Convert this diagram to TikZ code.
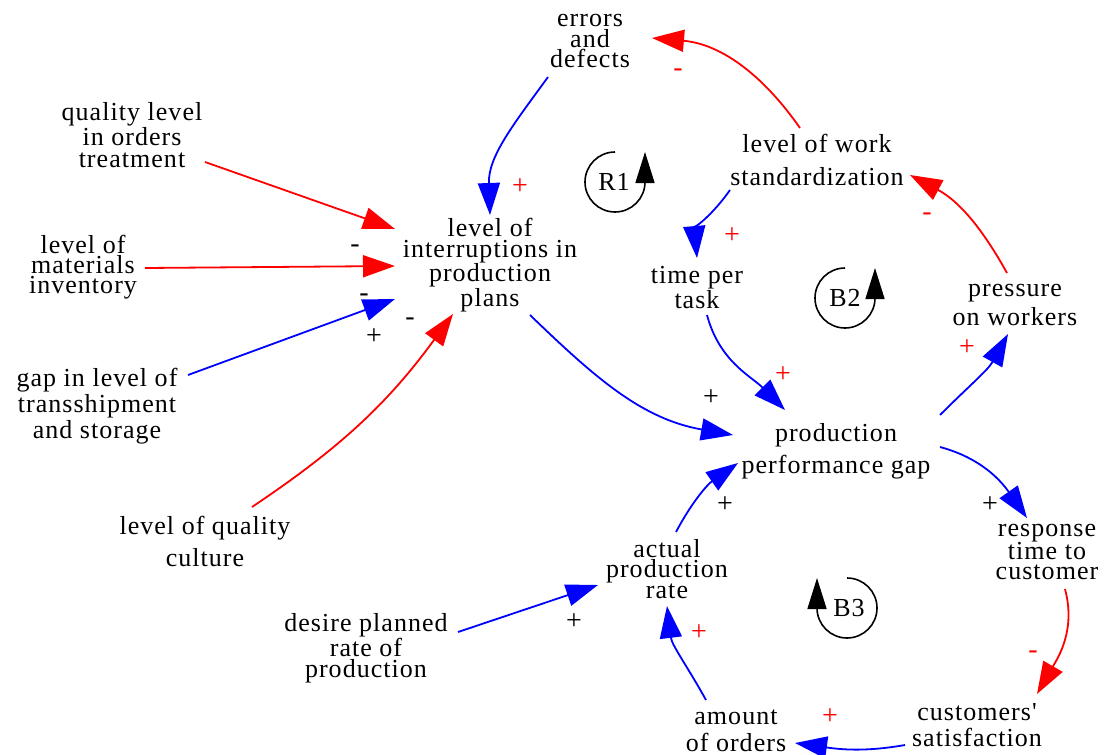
\documentclass[tikz,border=0pt]{standalone}
\usepackage{fontspec}
\setmainfont{Liberation Serif}
\newfontfamily\varfont[LetterSpace=4]{Liberation Serif}
\usetikzlibrary{arrows.meta}

\definecolor{posblue}{RGB}{0,0,255}
\definecolor{negred}{RGB}{255,0,0}

\tikzset{
  var/.style={align=center, inner sep=2pt, font=\varfont\fontsize{26}{#1}\selectfont},
  link/.style={line width=1.8pt, -{Triangle[length=32pt,width=22pt]}},
  poslink/.style={link, draw=posblue},
  neglink/.style={link, draw=negred},
  sign/.style={inner sep=0pt, font=\fontsize{28}{28}\selectfont},
  redsign/.style={sign, text=negred},
  loopsym/.style={line width=1.6pt, -{Triangle[length=31pt,width=19pt]}},
  looplabel/.style={inner sep=0pt, font=\varfont\fontsize{26}{26}\selectfont},
}

\begin{document}
\begin{tikzpicture}[x=1pt, y=1pt]
\useasboundingbox (0,0) rectangle (1104,-755);
\fill[white] (0,0) rectangle (1104,-755);

% variables
\node[var=20]   (eD) at (590,-41)  {errors\\and\\defects};
\node[var=22]   (qL) at (132,-135) {quality level\\in orders\\treatment};
\node[var=20]   (mI) at (83,-267)  {level of\\materials\\inventory};
\node[var=20.5] (iP) at (490,-265) {level of\\interruptions in\\production\\plans};
\node[var=26]   (gT) at (97,-406)  {gap in level of\\transshipment\\and storage};
\node[var=32]   (qC) at (205,-541) {level of quality\\culture};
\node[var=33]   (wS) at (817,-160) {level of work\\standardization};
\node[var=25]   (tT) at (697,-288) {time per\\task};
\node[var=29]   (pW) at (1015,-305) {pressure\\on workers};
\node[var=32]   (pG) at (836,-451) {production\\performance gap};
\node[var=20]   (rT) at (1047,-552) {response\\time to\\customer};
\node[var=20.5] (aP) at (667,-569) {actual\\production\\rate};
\node[var=21]   (dP) at (366,-648) {desire planned\\rate of\\production};
\node[var=26]   (cS) at (977,-725) {customers'\\satisfaction};
\node[var=27]   (aO) at (736,-731) {amount\\of orders};

% causal links
\draw[neglink] ([shift={(-17,32)}]wS.center) to[out=125,in=-5] ([shift={(62,3)}]eD.center);
\draw[poslink] ([shift={(-42,-36)}]eD.center) to[out=234,in=92] ([shift={(0,50)}]iP.center);
\draw[poslink] ([shift={(-87,-30)}]wS.center) to[out=235,in=95] ([shift={(0,30)}]tT.center);
\draw[neglink] ([shift={(-8,32)}]pW.center) to[out=119,in=-28] ([shift={(93,-15)}]wS.center);
\draw[poslink] ([shift={(10,-27)}]tT.center) to[out=-75,in=135] ([shift={(-51,41)}]pG.center);
\draw[poslink] ([shift={(104,36)}]pG.center) to[out=45,in=241] ([shift={(-7,-29)}]pW.center);
\draw[poslink] ([shift={(40,-50)}]iP.center) to[out=-44,in=170] ([shift={(-103,16)}]pG.center);
\draw[poslink] ([shift={(104,4)}]pG.center) to[out=-15,in=125] ([shift={(-20,34)}]rT.center);
\draw[neglink] ([shift={(18,-37)}]rT.center) to[out=-75,in=60] ([shift={(60,31)}]cS.center);
\draw[poslink] ([shift={(-72,-20)}]cS.center) to[out=190,in=-8] ([shift={(59,-12)}]aO.center);
\draw[poslink] ([shift={(-30,31)}]aO.center) to[out=119,in=277] ([shift={(0,-37)}]aP.center);
\draw[poslink] ([shift={(9,37)}]aP.center) to[out=62,in=215] ([shift={(-98,-12)}]pG.center);
\draw[poslink] ([shift={(92,16)}]dP.center) -- ([shift={(-69,-16)}]aP.center);
\draw[neglink] ([shift={(73,-27)}]qL.center) -- ([shift={(-95,36)}]iP.center);
\draw[neglink] ([shift={(62,-1)}]mI.center) -- ([shift={(-95,-1)}]iP.center);
\draw[poslink] ([shift={(91,31)}]gT.center) -- ([shift={(-95,-34)}]iP.center);
\draw[neglink] ([shift={(47,34)}]qC.center) to[bend right=10] ([shift={(-37,-49)}]iP.center);

% polarity signs
\node[redsign] (s1)  at (678,-73)  {-};
\node[redsign] (s2)  at (520,-187) {+};
\node[redsign] (s3)  at (732,-236) {+};
\node[redsign] (s4)  at (927,-217) {-};
\node[redsign] (s5)  at (783,-375) {+};
\node[redsign] (s6)  at (967,-348) {+};
\node[sign]    (s7)  at (711,-398) {+};
\node[sign]    (s8)  at (990,-505) {+};
\node[redsign] (s9)  at (1033,-655) {-};
\node[redsign] (s10) at (830,-717) {+};
\node[redsign] (s11) at (699,-633) {+};
\node[sign]    (s12) at (725,-505) {+};
\node[sign]    (s13) at (574,-622) {+};
\node[sign]    (s14) at (355,-249) {-};
\node[sign]    (s15) at (364,-298) {-};
\node[sign]    (s16) at (374,-337) {+};
\node[sign]    (s17) at (410,-322) {-};

% loop markers
\node[looplabel] (R1) at (614,-182) {R1};
\draw[loopsym] (615,-152) arc[start angle=90, end angle=360, radius=30] -- ++(0,30);
\node[looplabel] (B2) at (845,-298) {B2};
\draw[loopsym] (845,-268) arc[start angle=90, end angle=360, radius=30] -- ++(0,30);
\node[looplabel] (B3) at (849,-608) {B3};
\draw[loopsym] (847,-578) arc[start angle=90, end angle=-180, radius=30] -- ++(0,30);
\end{tikzpicture}
\end{document}
